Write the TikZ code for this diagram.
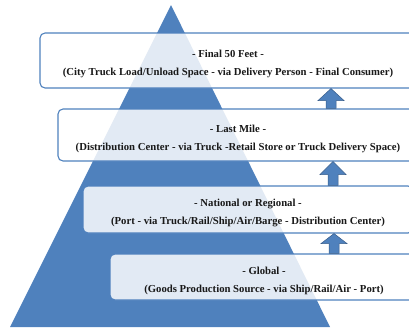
\documentclass[tikz,border=0pt]{standalone}
\usepackage{fontspec}
\setmainfont{Liberation Serif}
\usetikzlibrary{calc}
\definecolor{pyrblue}{RGB}{79,129,189}
\definecolor{pyredge}{RGB}{56,93,138}
\definecolor{txtgray}{RGB}{25,25,25}
\tikzset{
  tier/.style={draw=pyrblue, line width=1.1pt, rounded corners=5pt,
    fill=white, fill opacity=0.84, text opacity=1, align=center,
    font=\bfseries\fontsize{10.7}{18}\selectfont, text=txtgray, inner sep=0pt},
  uparrow/.style={fill=pyrblue, draw=pyredge, line width=0.5pt}
}
% two-line tier caption, set a little below the box centre
\newcommand{\tiertext}[2]{\rule{0pt}{15pt}#1\\#2}
\newcommand{\blockup}[4]{% x, lower node, upper node, head depth
  \path[uparrow]
    ($(#1,0 |- #2.north)+(-5,0)$) -- ($(#1,0 |- #3.south)+(-5,#4)$)
    -- ++(-8,0) -- ($(#1,0 |- #3.south)$) -- ($(#1,0 |- #3.south)+(13,#4)$)
    -- ++(-8,0) -- ($(#1,0 |- #2.north)+(5,0)$) -- cycle;
}
\begin{document}
\begin{tikzpicture}[x=1pt,y=-1pt]
\useasboundingbox (0,0) rectangle (409,327);
% pyramid
\fill[pyrblue] (171,5) -- (330,327) -- (10,327) -- cycle;
% tiers
\node[tier, minimum width=376pt, minimum height=55pt] (fin) at (228,60.5)
  {\tiertext{- Final 50 Feet -}{(City Truck Load/Unload Space - via Delivery Person - Final Consumer)}};
\node[tier, minimum width=360pt, minimum height=52pt] (last) at (238,135)
  {\tiertext{- Last Mile -}{(Distribution Center - via Truck -Retail Store or Truck Delivery Space)}};
\node[tier, minimum width=330pt, minimum height=47pt] (nat) at (248,209.5)
  {\tiertext{- National or Regional -}{(Port - via Truck/Rail/Ship/Air/Barge - Distribution Center)}};
\node[tier, minimum width=308pt, minimum height=46pt] (glob) at (264,277)
  {\tiertext{- Global -}{(Goods Production Source - via Ship/Rail/Air - Port)}};
% upward block arrows between tiers
\blockup{331}{last}{fin}{12}
\blockup{333}{nat}{last}{13}
\blockup{334}{glob}{nat}{10}
\end{tikzpicture}
\end{document}
